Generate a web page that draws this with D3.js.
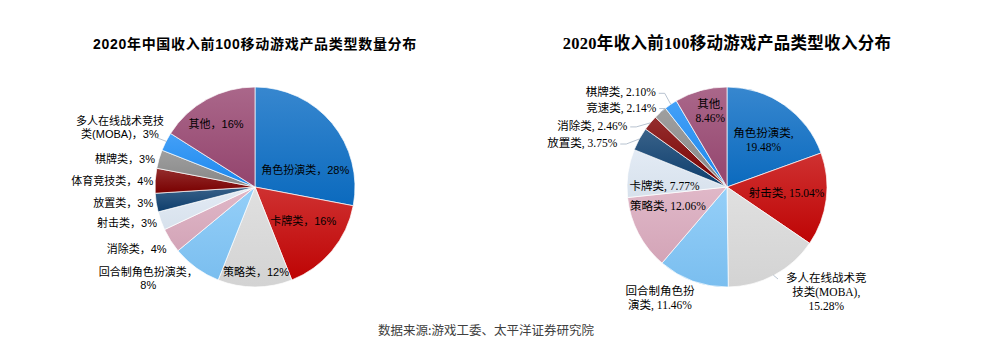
<!DOCTYPE html>
<html>
<head>
<meta charset="utf-8">
<script src="https://cdn.jsdelivr.net/npm/d3@7.9.0/dist/d3.min.js"></script>
<style>
  body { margin: 0; background: #fff; }
  svg { display: block; }
</style>
</head>
<body>
<div id="chart"></div>
<script>
// ---------- DATA ----------
const leftTitle = "2020年中国收入前100移动游戏产品类型数量分布";
const leftCats = ["角色扮演类", "卡牌类", "策略类", "回合制角色扮演类", "消除类", "射击类", "放置类", "体育竞技类", "棋牌类", "多人在线战术竞技类(MOBA)", "其他"];
const leftVals = [28, 16, 12, 8, 4, 3, 3, 4, 3, 3, 16];

const rightTitle = "2020年收入前100移动游戏产品类型收入分布";
const rightCats = ["角色扮演类", "射击类", "多人在线战术竞技类(MOBA)", "回合制角色扮演类", "策略类", "卡牌类", "放置类", "消除类", "竞速类", "棋牌类", "其他"];
const rightVals = [19.48, 15.04, 15.28, 11.46, 12.06, 7.77, 3.75, 2.46, 2.14, 2.10, 8.46];

const sourceText = "数据来源:游戏工委、太平洋证券研究院";

// slice colours, same order for both pies
const colors = ["#0b6dc4", "#c40404", "#d9d9d9", "#7ec4f6", "#d9a9bc", "#dde7f3", "#0d3f6f", "#7c0000", "#8a8a8a", "#1b8bf5", "#974670"];

// ---------- LAYOUT ----------
const W = 982, H = 342, R = 100;

// label placement: in = centroid + nudge, out = edge point + nudge (text end / middle)
const leftLayout = [
  { mode: "in", dx: 4, dy: 21 },
  { mode: "in", dx: 2, dy: -4 },
  { mode: "in", dx: 1, dy: 25 },
  { mode: "out", dx: -48, dy: 11, anchor: "middle", breaks: [9] },
  { mode: "out", dx: -4, dy: 9 },
  { mode: "out", dx: -4, dy: 2 },
  { mode: "out", dx: -3, dy: 1 },
  { mode: "out", dx: -2, dy: 0 },
  { mode: "out", dx: -4, dy: 0 },
  { mode: "out", dx: -46, dy: -14, anchor: "middle", breaks: [8], leader: [[155, 137]] },
  { mode: "in", dx: -10, dy: -10 }
];

const rightLayout = [
  { mode: "in", dx: 2, dy: 2, breaks: [6] },
  { mode: "in", dx: 0, dy: -2 },
  { mode: "out", dx: 52, dy: 17, anchor: "middle", breaks: [7, 16], leader: [[778, 279]] },
  { mode: "out", dx: -33, dy: 17, anchor: "middle", breaks: [6] },
  { mode: "in", dx: -6, dy: -9 },
  { mode: "in", dx: -3, dy: 7 },
  { mode: "out", dx: -22, dy: 4, leader: true },
  { mode: "out", dx: -23, dy: 3, leader: true },
  { mode: "out", dx: -4, dy: -5, leader: true },
  { mode: "out", dx: -15, dy: -12, leader: true },
  { mode: "in", dx: -1, dy: -18, breaks: [3] }
];

const svg = d3.select("#chart").append("svg")
  .attr("width", W).attr("height", H);

const defs = svg.append("defs");
colors.forEach((c, i) => {
  const g = defs.append("linearGradient")
    .attr("id", "grad" + i)
    .attr("x1", 0).attr("y1", 0).attr("x2", 0).attr("y2", 1);
  g.append("stop").attr("offset", "0%").attr("stop-color", d3.interpolateRgb(c, "#fff")(0.18));
  g.append("stop").attr("offset", "100%").attr("stop-color", d3.color(c).darker(0.08));
});

function drawPie(opts) {
  const { cx, cy, title, titleFont, titleSize, titleSpacing, cats, vals, layout, font, fontSize, sep, fmt } = opts;
  const data = cats.map((c, i) => ({ name: c, v: vals[i], i }));
  const pie = d3.pie().sort(null).value(d => d.v);
  const arcs = pie(data);
  const arc = d3.arc().innerRadius(0).outerRadius(R);
  const labelArc = d3.arc().innerRadius(R * 0.6).outerRadius(R * 0.6);
  const edgeArc = d3.arc().innerRadius(R).outerRadius(R);

  const g = svg.append("g").attr("transform", `translate(${cx},${cy})`);

  g.selectAll("path.slice")
    .data(arcs)
    .join("path")
    .attr("class", "slice")
    .attr("d", arc)
    .attr("fill", d => `url(#grad${d.data.i})`)
    .attr("stroke", "#fff")
    .attr("stroke-width", 0.7);

  svg.append("text")
    .attr("x", cx).attr("y", 45)
    .attr("text-anchor", "middle")
    .attr("dominant-baseline", "middle")
    .style("font-family", titleFont)
    .style("font-size", titleSize + "px")
    .style("letter-spacing", titleSpacing + "px")
    .style("font-weight", "bold")
    .attr("fill", "#000")
    .text(title);

  arcs.forEach((a, k) => {
    const L = layout[k];
    const full = a.data.name + sep + fmt(a.data.v);
    const cuts = [0, ...(L.breaks || []), full.length];
    const lines = [];
    for (let j = 0; j < cuts.length - 1; j++) lines.push(full.slice(cuts[j], cuts[j + 1]).trim());

    const base = L.mode === "in" ? labelArc.centroid(a) : edgeArc.centroid(a);
    const x = base[0] + L.dx, y = base[1] + L.dy;
    const anchor = L.anchor || (L.mode === "in" ? "middle" : "end");
    const lh = fontSize * 1.2;

    const t = g.append("text")
      .attr("text-anchor", anchor)
      .style("font-family", font)
      .style("font-size", fontSize + "px")
      .attr("fill", "#000");
    lines.forEach((ln, j) => {
      t.append("tspan")
        .attr("x", x)
        .attr("y", y + (j - (lines.length - 1) / 2) * lh)
        .attr("dy", "0.35em")
        .text(ln);
    });

    if (L.leader) {
      let pts;
      if (L.leader === true) {
        pts = [[x + 3, y + 1], [x + 9, y + 1], base];
      } else {
        pts = [[L.leader[0][0] - cx, L.leader[0][1] - cy], [base[0] + (base[0] < 0 ? 1 : -1), base[1]]];
      }
      g.append("path")
        .attr("d", d3.line()(pts))
        .attr("fill", "none")
        .attr("stroke", "#a6b4c4")
        .attr("stroke-width", 0.8);
    }
  });
}

drawPie({
  cx: 255, cy: 187,
  title: leftTitle,
  titleFont: "'Liberation Sans', 'Noto Sans CJK SC', sans-serif",
  titleSize: 14,
  titleSpacing: 0.7,
  cats: leftCats, vals: leftVals, layout: leftLayout,
  font: "'Liberation Sans', 'Noto Sans CJK SC', sans-serif",
  fontSize: 11,
  sep: "，",
  fmt: v => v + "%"
});

drawPie({
  cx: 727, cy: 187,
  title: rightTitle,
  titleFont: "'Liberation Serif', 'Noto Sans CJK SC', serif",
  titleSize: 16.5,
  titleSpacing: 0.3,
  cats: rightCats, vals: rightVals, layout: rightLayout,
  font: "'Liberation Serif', 'Noto Sans CJK SC', serif",
  fontSize: 11.5,
  sep: ", ",
  fmt: v => v.toFixed(2) + "%"
});

svg.append("text")
  .attr("x", 486).attr("y", 332)
  .attr("text-anchor", "middle")
  .attr("dominant-baseline", "middle")
  .style("font-family", "'Noto Sans CJK SC', sans-serif")
  .style("font-size", "12.5px")
  .attr("fill", "#404040")
  .text(sourceText);
</script>
</body>
</html>
